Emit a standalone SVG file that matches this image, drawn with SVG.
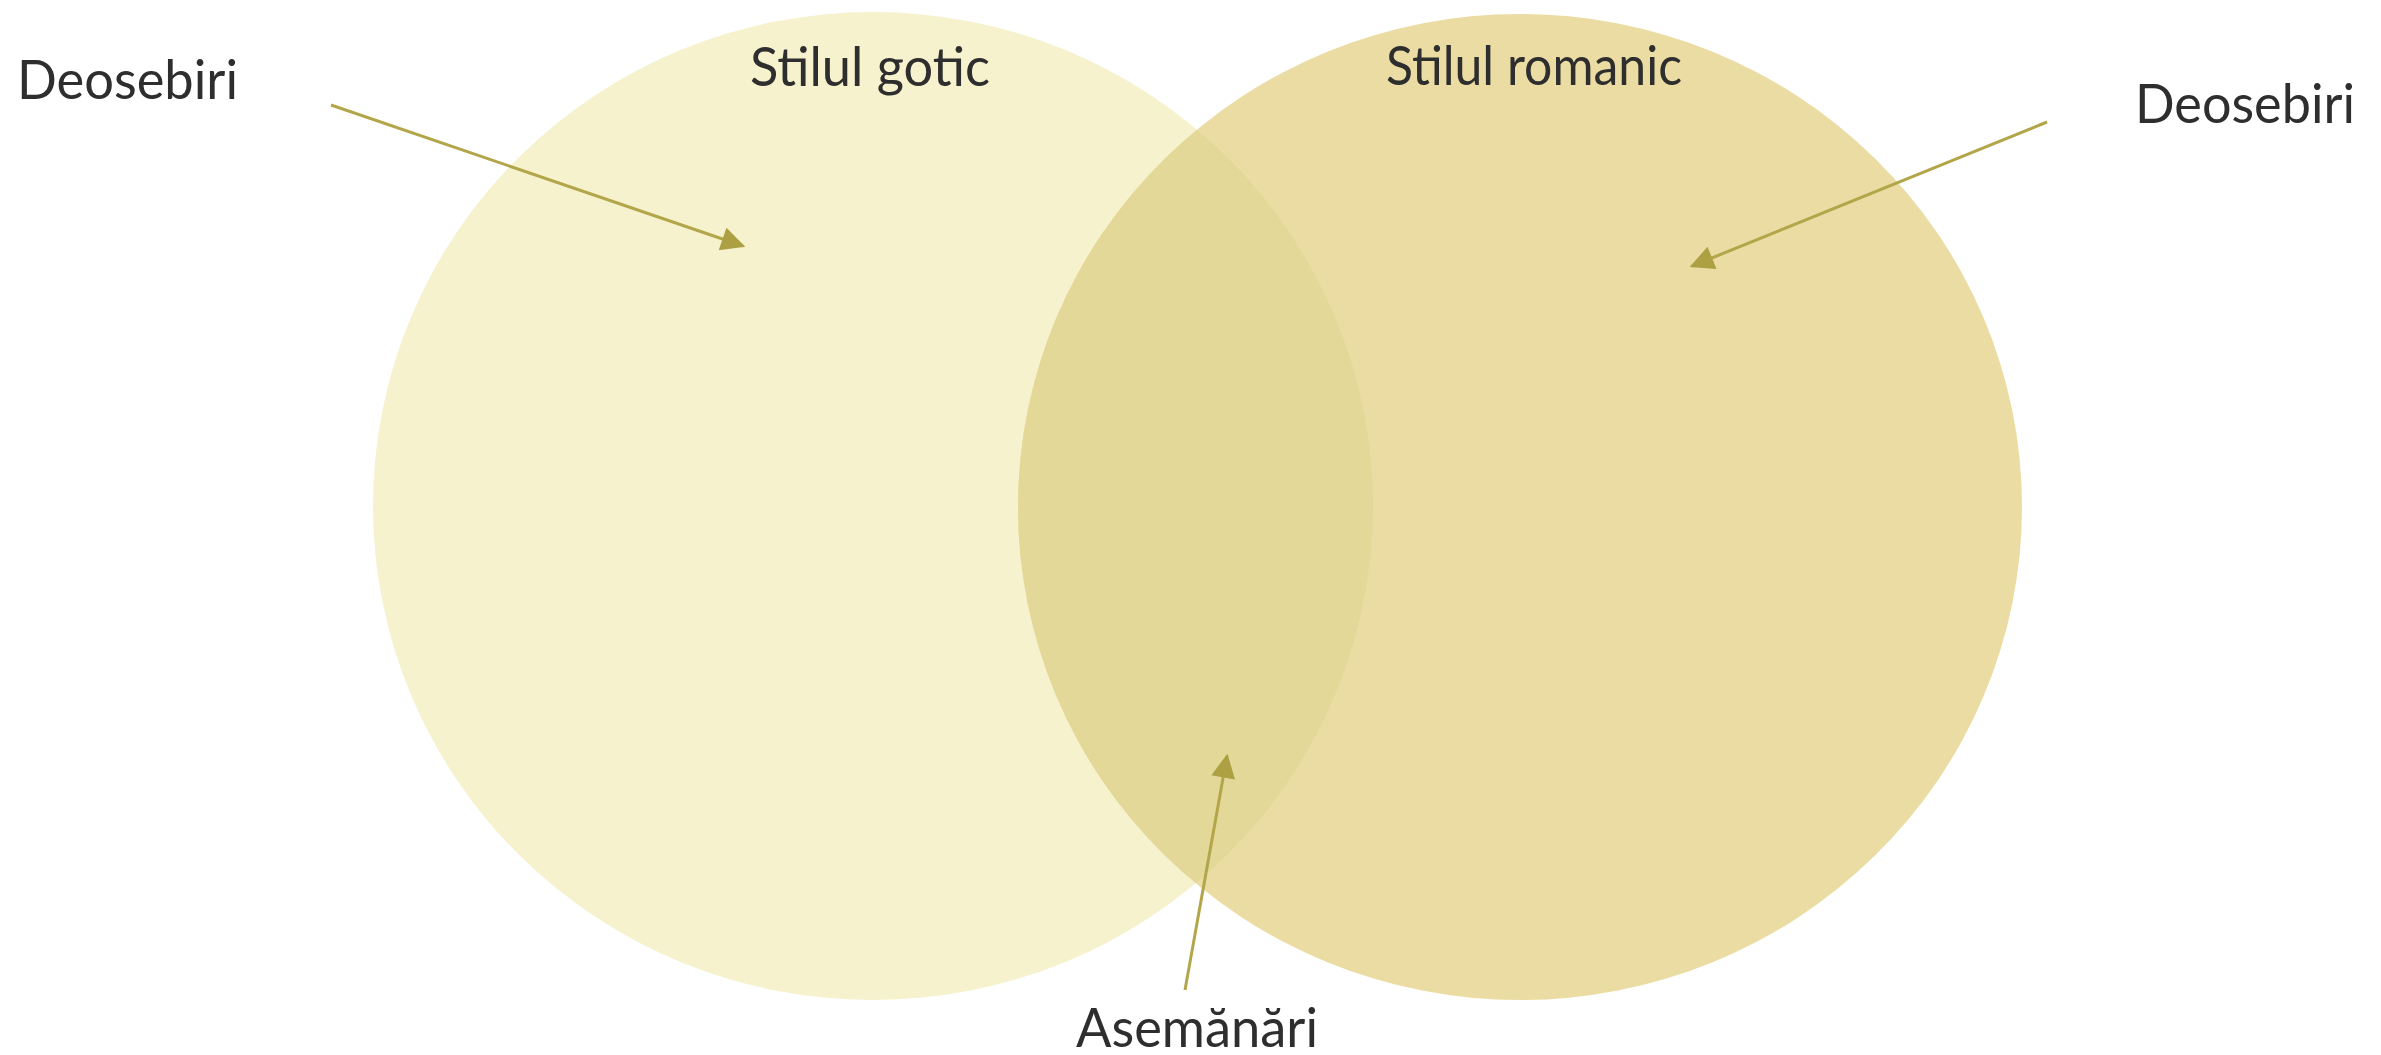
<svg xmlns="http://www.w3.org/2000/svg" width="2381" height="1055" viewBox="0 0 2381 1055">
<style>
.lbl{font-family:Lato,"Liberation Sans",sans-serif;font-size:54px;fill:#2e2e2e}
.arr{stroke:#b3a64a;stroke-width:3;fill:none;marker-end:url(#ah)}
</style>
<defs>
<marker id="ah" viewBox="0 0 10 10" refX="9" refY="5" markerWidth="9" markerHeight="8" markerUnits="strokeWidth" orient="auto">
<path d="M0,0 L10,5 L0,10 Z" fill="#ada043"/>
</marker>
<clipPath id="clipL"><ellipse cx="873" cy="506" rx="500" ry="494"/></clipPath>
</defs>
<rect width="2381" height="1055" fill="#ffffff"/>
<g id="gotic">
<ellipse cx="873" cy="506" rx="500" ry="494" fill="#f5f2cd"/>
<text class="lbl" x="750" y="86" textLength="240" lengthAdjust="spacingAndGlyphs">Stilul gotic</text>
</g>
<g id="romanic">
<ellipse cx="1520" cy="507" rx="502" ry="493" fill="#eadca2"/>
<text class="lbl" x="1386" y="85" textLength="296" lengthAdjust="spacingAndGlyphs">Stilul romanic</text>
</g>
<g id="overlap">
<ellipse cx="1520" cy="507" rx="502" ry="493" fill="#e3d898" clip-path="url(#clipL)"/>
</g>
<g id="label-deosebiri-left">
<text class="lbl" x="17" y="99" textLength="221" lengthAdjust="spacingAndGlyphs">Deosebiri</text>
</g>
<g id="label-deosebiri-right">
<text class="lbl" x="2135" y="123" textLength="220" lengthAdjust="spacingAndGlyphs">Deosebiri</text>
</g>
<g id="label-asemanari">
<text class="lbl" x="1076" y="1047" textLength="242" lengthAdjust="spacingAndGlyphs">Asemănări</text>
</g>
<g id="connectors">
<line class="arr" x1="331" y1="105" x2="743" y2="246"/>
<line class="arr" x1="2047" y1="122" x2="1692" y2="266"/>
<line class="arr" x1="1185" y1="990" x2="1227" y2="756"/>
</g>
</svg>
